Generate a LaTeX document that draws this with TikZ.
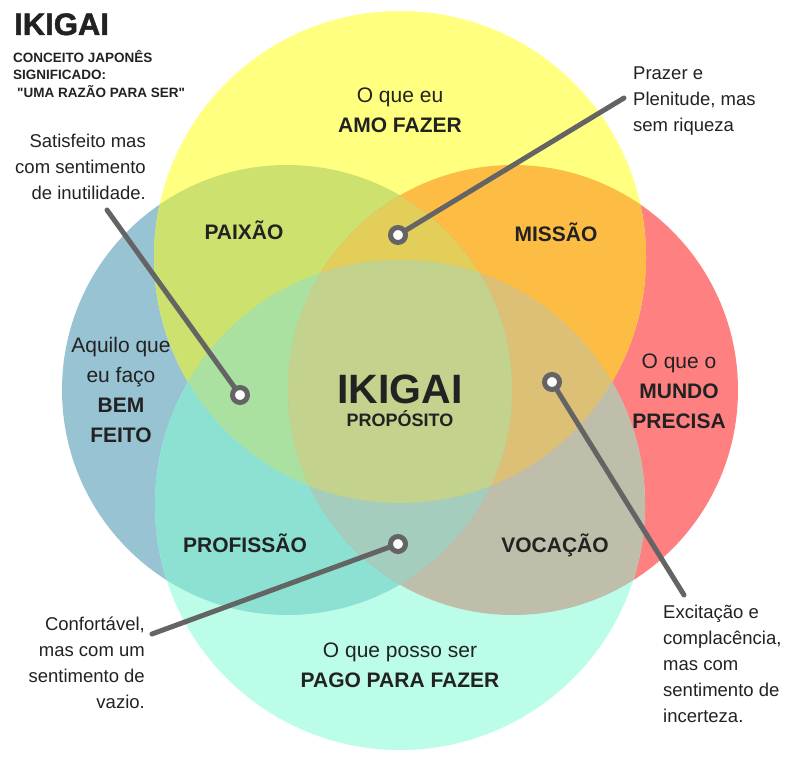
\documentclass[tikz,border=0pt]{standalone}
\usepackage{fontspec}
\setmainfont{Liberation Sans}
\newfontfamily\plainfont[Ligatures=TeXOff]{Liberation Sans}
\definecolor{cY}{RGB}{255,255,128}
\definecolor{cB}{RGB}{152,195,210}
\definecolor{cR}{RGB}{255,128,128}
\definecolor{cC}{RGB}{187,253,232}
\definecolor{cYB}{RGB}{205,225,110}
\definecolor{cYR}{RGB}{253,188,68}
\definecolor{cBC}{RGB}{140,225,210}
\definecolor{cRC}{RGB}{190,190,170}
\definecolor{cBR}{RGB}{203,161,169}
\definecolor{cYC}{RGB}{195,210,140}
\definecolor{cYBR}{RGB}{227,206,89}
\definecolor{cYBC}{RGB}{170,225,160}
\definecolor{cYRC}{RGB}{220,192,118}
\definecolor{cBRC}{RGB}{165,205,190}
\definecolor{cAll}{RGB}{195,210,140}
\definecolor{txt}{RGB}{34,34,34}
\definecolor{lineg}{RGB}{100,100,100}
\tikzset{
  bigl/.style={font=\fontsize{21}{30}\selectfont\bfseries, text=txt, inner sep=0pt, anchor=base},
  regl/.style={font=\fontsize{21}{30}\selectfont, text=txt, inner sep=0pt, anchor=base},
  notel/.style={font=\fontsize{18.5}{26}\selectfont, text=txt, inner sep=0pt},
  titl/.style={font=\fontsize{13.5}{17}\selectfont\bfseries, text=txt, inner sep=0pt, anchor=base west},
  ring/.style={circle, draw=lineg, fill=white, line width=5pt, minimum size=15pt, inner sep=0pt},
  conn/.style={draw=lineg, line width=5pt, line cap=round}
}
\def\Yc{(400,257) circle[radius=246pt]}
\def\Cc{(400,505) circle[radius=245pt]}
\def\Bc{(287,390) circle[radius=225pt]}
\def\Rc{(513,390) circle[radius=225pt]}
\begin{document}
\begin{tikzpicture}[x=1pt,y=-1pt]
\useasboundingbox (0,0) rectangle (800,770);
\fill[white] (0,0) rectangle (800,770);
% single circles
\fill[cB] \Bc;
\fill[cR] \Rc;
\fill[cY] \Yc;
\fill[cC] \Cc;
% pairs
\begin{scope}\clip \Yc; \fill[cYB] \Bc; \fill[cYR] \Rc; \fill[cYC] \Cc; \end{scope}
\begin{scope}\clip \Cc; \fill[cBC] \Bc; \fill[cRC] \Rc; \end{scope}
\begin{scope}\clip \Bc; \fill[cBR] \Rc; \end{scope}
% triples
\begin{scope}\clip \Yc; \clip \Bc; \fill[cYBR] \Rc; \fill[cYBC] \Cc; \end{scope}
\begin{scope}\clip \Yc; \clip \Rc; \fill[cYRC] \Cc; \end{scope}
\begin{scope}\clip \Bc; \clip \Rc; \fill[cBRC] \Cc; \end{scope}
% all four
\begin{scope}\clip \Yc; \clip \Bc; \clip \Rc; \fill[cAll] \Cc; \end{scope}

% title
\node[titl, font=\fontsize{31}{31}\selectfont\bfseries\addfontfeature{FakeBold=1.6}] (title) at (14,35) {IKIGAI};
\node[titl] (t1) at (13,63) {CONCEITO JAPONÊS};
\node[titl] (t2) at (13,80) {SIGNIFICADO:};
\node[titl, font=\fontsize{13.5}{17}\selectfont\plainfont\bfseries] (t3) at (17,98) {"UMA RAZÃO PARA SER"};

% circle texts
\node[regl] (y1) at (400,103) {O que eu};
\node[bigl] (y2) at (400,133) {AMO FAZER};
\node[regl] (b1) at (121,352) {Aquilo que};
\node[regl] (b2) at (121,382) {eu faço};
\node[bigl] (b3) at (121,412) {BEM};
\node[bigl] (b4) at (121,442) {FEITO};
\node[regl] (r1) at (679,368) {O que o};
\node[bigl] (r2) at (679,398) {MUNDO};
\node[bigl] (r3) at (679,428) {PRECISA};
\node[regl] (c1) at (400,657) {O que posso ser};
\node[bigl] (c2) at (400,687) {PAGO PARA FAZER};

% intersections
\node[bigl] (paixao) at (244,240) {PAIXÃO};
\node[bigl] (missao) at (556,241) {MISSÃO};
\node[bigl] (prof) at (245,552) {PROFISSÃO};
\node[bigl] (voc) at (555,552) {VOCAÇÃO};
\node[bigl, font=\fontsize{41}{41}\selectfont\bfseries] (iki) at (400,403) {IKIGAI};
\node[bigl, font=\fontsize{18}{18}\selectfont\bfseries] (prop) at (400,426) {PROPÓSITO};

% notes
\node[notel, anchor=base east] (s1) at (146,148) {Satisfeito mas};
\node[notel, anchor=base east] (s2) at (146,174) {com sentimento};
\node[notel, anchor=base east] (s3) at (146,200) {de inutilidade.};
\node[notel, anchor=base west] (p1) at (633,80) {Prazer e};
\node[notel, anchor=base west] (p2) at (633,106) {Plenitude, mas};
\node[notel, anchor=base west] (p3) at (633,132) {sem riqueza};
\node[notel, anchor=base east] (f1) at (145,630) {Confortável,};
\node[notel, anchor=base east] (f2) at (145,656) {mas com um};
\node[notel, anchor=base east] (f3) at (145,682) {sentimento de};
\node[notel, anchor=base east] (f4) at (145,708) {vazio.};
\node[notel, anchor=base west] (e1) at (663,618) {Excitação e};
\node[notel, anchor=base west] (e2) at (663,644) {complacência,};
\node[notel, anchor=base west] (e3) at (663,670) {mas com};
\node[notel, anchor=base west] (e4) at (663,696) {sentimento de};
\node[notel, anchor=base west] (e5) at (663,722) {incerteza.};

% connectors
\coordinate (sEnd) at (107,210);
\coordinate (pEnd) at (624,98);
\coordinate (fEnd) at (152,634);
\coordinate (eEnd) at (684,595);
\coordinate (dS) at (240,395);
\coordinate (dP) at (398,235);
\coordinate (dF) at (398,544);
\coordinate (dE) at (552,382);
\draw[conn] (sEnd) -- (dS);
\draw[conn] (pEnd) -- (dP);
\draw[conn] (fEnd) -- (dF);
\draw[conn] (eEnd) -- (dE);
\node[ring] (ringS) at (dS) {};
\node[ring] (ringP) at (dP) {};
\node[ring] (ringF) at (dF) {};
\node[ring] (ringE) at (dE) {};
\end{tikzpicture}
\end{document}
